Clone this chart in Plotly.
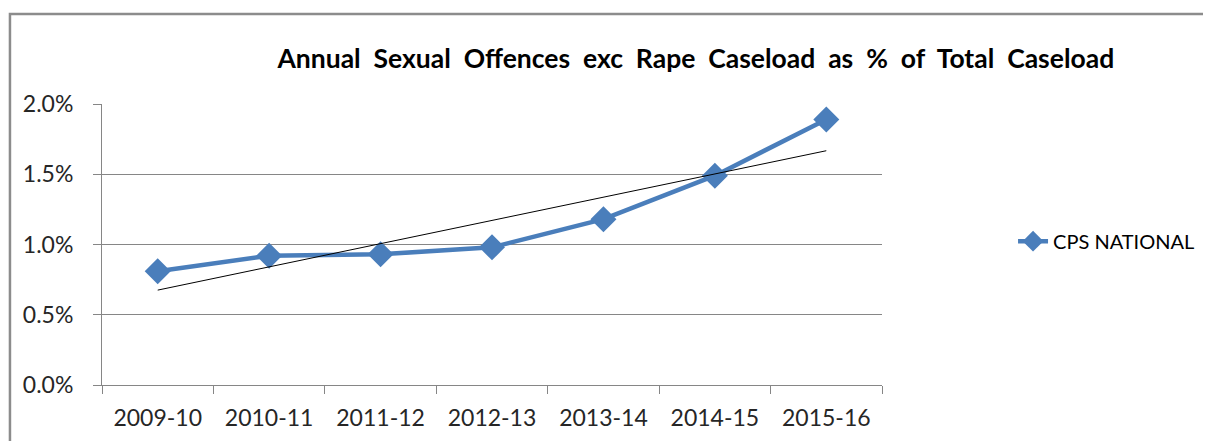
import numpy as np
import plotly.graph_objects as go

years = ["2009-10", "2010-11", "2011-12", "2012-13", "2013-14", "2014-15", "2015-16"]
cps_national = [0.0081, 0.0092, 0.0093, 0.0098, 0.0118, 0.0149, 0.0189]
y_ticks = [0.0, 0.005, 0.010, 0.015, 0.020]

FONT = "Lato"
BLUE = "#4A7EBB"
GREY = "#868686"

# linear trendline like Excel's
idx = np.arange(len(years))
slope, intercept = np.polyfit(idx, cps_national, 1)
trend = intercept + slope * idx

fig = go.Figure()

fig.add_trace(go.Scatter(
    x=years,
    y=cps_national,
    name="CPS NATIONAL",
    mode="lines+markers",
    line=dict(color=BLUE, width=4.5),
    marker=dict(symbol="diamond", size=20, color=BLUE),
))

fig.add_trace(go.Scatter(
    x=years,
    y=trend,
    mode="lines",
    line=dict(color="black", width=1),
    showlegend=False,
    hoverinfo="skip",
))

# outer chart frame (cut off at right/bottom like the screenshot)
fig.add_shape(
    type="rect", xref="paper", yref="paper",
    x0=-0.118, x1=1.45, y0=-0.3, y1=1.32,
    line=dict(color="#8C8C8C", width=2.5),
    layer="below",
)

fig.update_layout(
    width=1211,
    height=441,
    margin=dict(l=94, r=337, t=96, b=64),
    paper_bgcolor="white",
    plot_bgcolor="white",
    font=dict(family=FONT, size=23, color="#262626"),
    title=dict(
        text="<b>Annual  Sexual  Offences  exc  Rape  Caseload  as  %  of  Total  Caseload</b>",
        x=0.568, xanchor="center",
        y=0.885, yanchor="middle",
        font=dict(family=FONT, size=26.5, color="black"),
    ),
    legend=dict(
        x=1.168, xanchor="left",
        y=0.512, yanchor="middle",
        font=dict(family=FONT, size=20, color="black"),
        bgcolor="rgba(0,0,0,0)",
    ),
    showlegend=True,
)

fig.update_xaxes(
    type="category",
    showgrid=False,
    showline=True, linecolor=GREY, linewidth=1,
    ticks="outside", tickson="boundaries", ticklen=8, tickcolor=GREY,
    ticklabelstandoff=12,
    range=[-0.5, len(years) - 0.5],
    fixedrange=True,
)

fig.update_yaxes(
    range=[0, 0.02],
    tickvals=y_ticks,
    tickformat=".1%",
    showgrid=True, gridcolor=GREY, gridwidth=1,
    showline=True, linecolor=GREY, linewidth=1,
    ticks="outside", ticklen=8, tickcolor=GREY,
    ticklabelstandoff=15,
    zeroline=False,
    fixedrange=True,
)

fig.write_html("out.html")
